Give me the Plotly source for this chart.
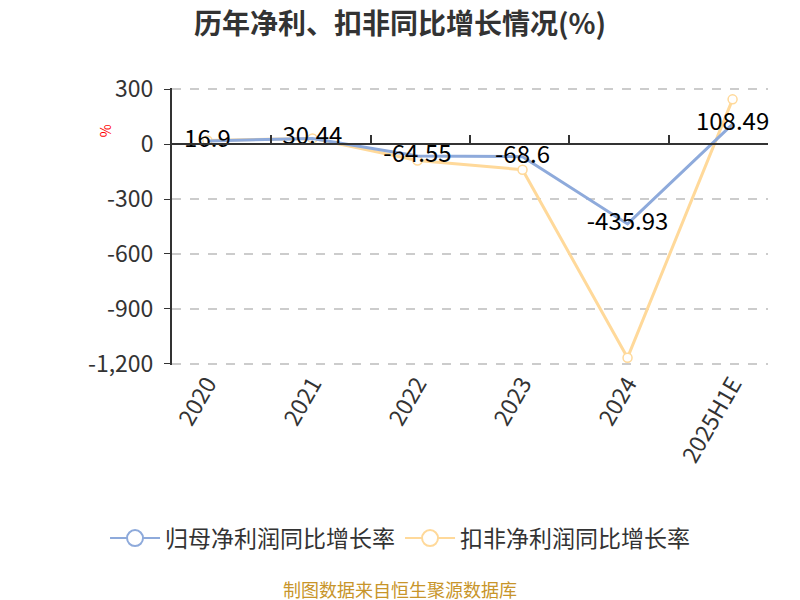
import plotly.graph_objects as go

years = ["2020", "2021", "2022", "2023", "2024", "2025H1E"]
net_profit_growth = [16.9, 30.44, -64.55, -68.6, -435.93, 108.49]
deducted_growth = [20, 31, -90, -140, -1166, 244]
y_ticks = [300, 0, -300, -600, -900, -1200]
y_tick_text = ["300", "0", "-300", "-600", "-900", "-1,200"]

blue = "#8eaadb"
yellow = "#ffd99a"
font_family = "Noto Sans CJK SC, Noto Sans, sans-serif"

# a little padding so the gridlines at 300 and -1200 are still drawn
y_min, y_max = -1206, 306
zero_pos = (0 - y_min) / (y_max - y_min)

fig = go.Figure()

# the lines
fig.add_trace(go.Scatter(
    x=years, y=deducted_growth, mode="lines+markers",
    line=dict(color=yellow, width=3),
    marker=dict(symbol="circle", size=9, color="white", line=dict(color=yellow, width=1.5)),
    showlegend=False, cliponaxis=False,
))
fig.add_trace(go.Scatter(
    x=years, y=net_profit_growth, mode="lines+text",
    line=dict(color=blue, width=3),
    text=[str(v) for v in net_profit_growth],
    textposition="middle center",
    textfont=dict(size=24, color="#000000", family=font_family),
    showlegend=False, cliponaxis=False,
))

# legend-only entries so both show a circle
for name, color in [("归母净利润同比增长率", blue), ("扣非净利润同比增长率", yellow)]:
    fig.add_trace(go.Scatter(
        x=[None], y=[None], mode="lines+markers", name=name,
        line=dict(color=color, width=2),
        marker=dict(symbol="circle", size=18, color="white", line=dict(color=color, width=2)),
    ))

# x axis line at y = 0 with boundary ticks
fig.add_trace(go.Scatter(x=[None], y=[None], xaxis="x2", showlegend=False))

fig.update_layout(
    width=800, height=600,
    margin=dict(l=164, r=40, t=80, b=243),
    paper_bgcolor="white", plot_bgcolor="white",
    font=dict(family=font_family, color="#333333"),
    title=dict(text="<b>历年净利、扣非同比增长情况(%)</b>", x=0.49, xanchor="center",
               y=0.973, yanchor="middle", font=dict(size=28, color="#333333")),
    xaxis=dict(
        type="category", showline=False, ticks="", showgrid=False, zeroline=False,
        tickangle=-60, tickfont=dict(size=23, color="#333333"), automargin=False,
    ),
    xaxis2=dict(
        overlaying="x", anchor="free", position=zero_pos, range=[-0.5, 5.5],
        tickvals=[-0.5, 0.5, 1.5, 2.5, 3.5, 4.5, 5.5], showticklabels=False,
        ticks="inside", ticklen=8, tickcolor="#333333", tickwidth=1.5,
        showline=True, linecolor="#333333", linewidth=2, showgrid=False, zeroline=False,
    ),
    yaxis=dict(
        range=[y_min, y_max], tickvals=y_ticks, ticktext=y_tick_text,
        showline=True, linecolor="#333333", linewidth=2,
        ticks="outside", ticklen=6, tickcolor="#333333", ticklabelstandoff=6,
        showgrid=True, gridcolor="#cccccc", griddash="dash", gridwidth=1.5,
        zeroline=False, tickfont=dict(size=23, color="#333333"), automargin=False,
    ),
    legend=dict(orientation="h", x=0.3826, xanchor="center", y=-0.625, yanchor="middle",
                font=dict(size=23, color="#333333"), itemwidth=50),
    annotations=[
        dict(text="%", xref="paper", yref="paper", x=-0.112, y=0.845, showarrow=False,
             xanchor="center", yanchor="middle",
             textangle=-90, font=dict(size=14, color="#ff0000")),
        dict(text="制图数据来自恒生聚源数据库", xref="paper", yref="paper", x=0.3826, y=-0.808,
             xanchor="center", yanchor="middle",
             showarrow=False, font=dict(size=18, color="#c8952a")),
    ],
)

fig.write_html("out.html")
